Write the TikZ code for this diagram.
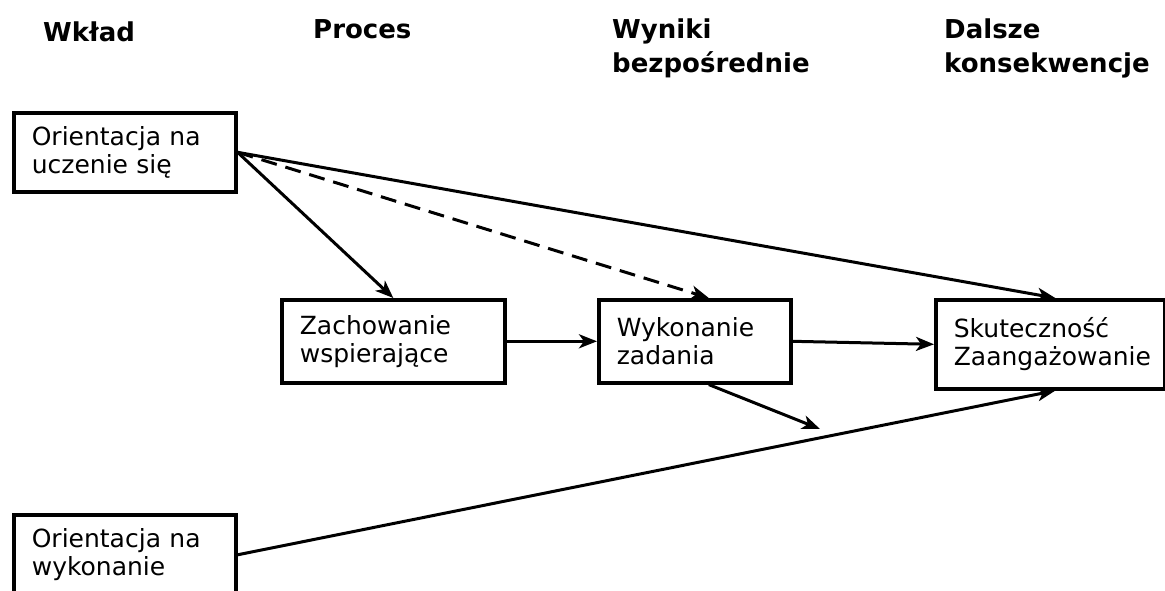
\documentclass[tikz,border=0pt]{standalone}
\usepackage{fontspec}
\setmainfont{DejaVu Sans}
\usetikzlibrary{arrows.meta}

\begin{document}
\begin{tikzpicture}[
  x=1pt, y=-1pt,
  box/.style={draw, line width=3.6pt, anchor=north west, align=left,
    inner xsep=18pt, text width=#1, font=\fontsize{25}{28}\selectfont},
  head/.style={anchor=base west, align=left, inner sep=0pt,
    font=\bfseries\fontsize{26}{34}\selectfont},
  link/.style={line width=3pt, -{Stealth[length=18pt,width=14pt,inset=5pt]}}
  ]
\useasboundingbox (0,0) rectangle (1165,590);

% Column headings (multi-line ones placed at their last baseline)
\node[head] (wklad) at (43,41) {Wkład};
\node[head] (proces) at (313,38) {Proces};
\node[head] (wyniki) at (612,72) {Wyniki\\bezpośrednie};
\node[head] (dalsze) at (944,72) {Dalsze\\konsekwencje};

% Input
\node[box=186pt, minimum height=79pt] (ucz) at (12,111) {Orientacja na\\uczenie się};
\node[box=186pt, minimum height=80pt] (wyk) at (12,513) {Orientacja na\\wykonanie};
% Process
\node[box=187pt, minimum height=83pt] (wsp) at (280,298) {Zachowanie\\wspierające};
% Outcomes
\node[box=156pt, minimum height=83pt] (zad) at (597,298) {Wykonanie\\zadania};
\node[box=193pt, minimum height=89pt] (skut) at (934,298) {Skuteczność\\Zaangażowanie};

% Free end of the moderating arrow
\coordinate (mod) at (820,429);

% Links
\draw[link] (ucz.east) -- (wsp.north);
\draw[link, dash pattern=on 16pt off 9pt] (ucz.east) -- ([xshift=14pt]zad.north);
\draw[link] (ucz.east) -- ([xshift=5pt]skut.north);
\draw[link] (wsp) -- (zad);
\draw[link] (zad.east) -- (skut.west);
\draw[link] ([xshift=14pt]zad.south) -- (mod);
\draw[link] (wyk.east) -- ([xshift=5pt]skut.south);

\end{tikzpicture}
\end{document}
